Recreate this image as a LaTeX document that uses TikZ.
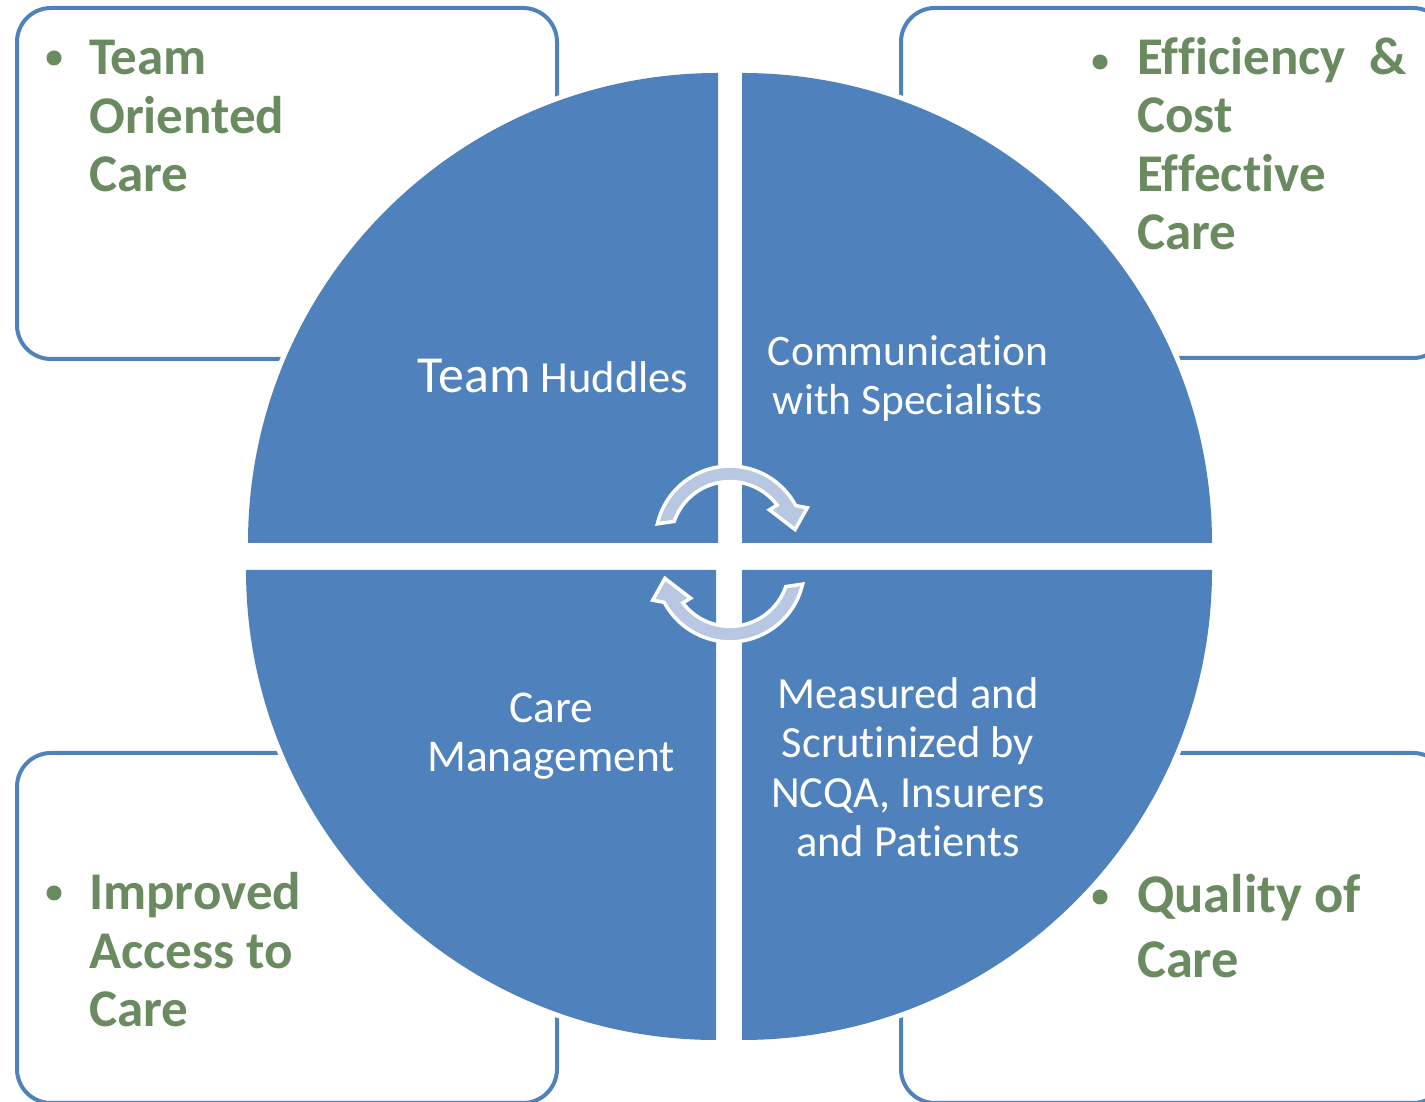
\documentclass[tikz,border=0pt]{standalone}
\usepackage{fontspec}
\setmainfont{Carlito}[Ligatures=NoCommon]
\definecolor{qblue}{RGB}{79,129,189}
\definecolor{edgeblue}{RGB}{79,129,189}
\definecolor{leafgreen}{RGB}{106,138,96}
\definecolor{arrowfill}{RGB}{185,200,226}
\begin{document}
\begin{tikzpicture}[x=1pt,y=1pt,
  panel/.style={draw=edgeblue, line width=4, rounded corners=34, fill=white},
  quad/.style={fill=qblue, preaction={draw=white, line width=10}},
  cyc/.style={fill=arrowfill, draw=white, line width=3.5, line join=miter},
  point/.style={circle, fill=leafgreen, inner sep=0pt, minimum size=15},
  benefit/.style={text=leafgreen, font=\fontsize{53}{58.5}\selectfont\bfseries, align=left, anchor=base west, inner sep=0pt},
  inner/.style={text=white, font=\fontsize{44.5}{49.5}\selectfont, align=center, anchor=base, inner sep=0pt}]
\useasboundingbox (0,0) rectangle (1425,1102);
\clip (0,0) rectangle (1425,1102);

% outcome panels behind the wheel
\draw[panel] (17,743) rectangle (557,1094);
\draw[panel] (901,744) rectangle (1447,1094);
\draw[panel] (17,-1) rectangle (557,349);
\draw[panel] (901,-1) rectangle (1447,349);

% four quadrants of the wheel
\path[quad] (718,559) -- (248,559) arc[start angle=180,end angle=90,radius=470] -- cycle;
\path[quad] (742,559) -- (742,1029) arc[start angle=90,end angle=0,radius=470] -- cycle;
\path[quad] (716,532) -- (716,62) arc[start angle=270,end angle=180,radius=470] -- cycle;
\path[quad] (742,532) -- (1212,532) arc[start angle=0,end angle=-90,radius=470] -- cycle;

% circular arrows at the hub
\begin{scope}[shift={(730,561.4)}]
\path[cyc] (161:59) -- (167:74.5) arc[start angle=167,end angle=28,radius=74.5]
  -- (23:84) -- (9.6:66) -- (38:50) -- (37:59) arc[start angle=37,end angle=161,radius=59] -- cycle;
\end{scope}
\begin{scope}[shift={(730,534.6)}, rotate=180]
\path[cyc] (161:59) -- (167:74.5) arc[start angle=167,end angle=28,radius=74.5]
  -- (23:84) -- (9.6:66) -- (38:50) -- (37:59) arc[start angle=37,end angle=161,radius=59] -- cycle;
\end{scope}

% quadrant labels (anchored on the baseline of their last line)
\node[inner] (huddles) at (553,709) {{\fontsize{52}{58}\selectfont Team} Huddles};
\node[inner, font=\fontsize{43.5}{49.5}\selectfont] (comm) at (908,687) {Communication\\with Specialists};
\node[inner, font=\fontsize{45.5}{49.5}\selectfont] (caremgmt) at (551,330) {Care\\Management};
\node[inner] (measured) at (908,245) {Measured and\\Scrutinized by\\NCQA, Insurers\\and Patients};

% outcome bullets
\node[point] (b1) at (54,1044) {};
\node[benefit] (teamcare) at (89,910) {Team\\Oriented\\Care};
\node[point] (b2) at (1100,1040) {};
\node[benefit] (efficiency) at (1137,852) {Efficiency\ \ \&\\Cost\\Effective\\Care};
\node[point] (b3) at (54,209) {};
\node[benefit] (access) at (89,75) {Improved\\Access to\\Care};
\node[point] (b4) at (1100,205) {};
\node[benefit, font=\fontsize{54.5}{65}\selectfont\bfseries] (quality) at (1137,124) {Quality of\\Care};
\end{tikzpicture}
\end{document}
